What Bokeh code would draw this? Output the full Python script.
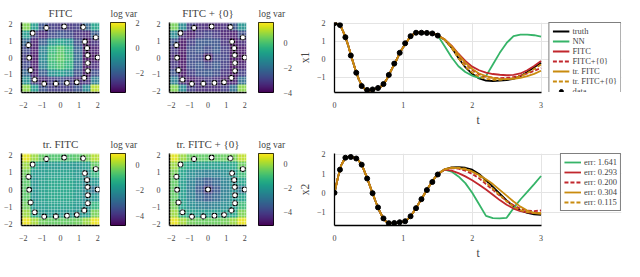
import numpy as np
from bokeh.plotting import figure
from bokeh.layouts import row, column
from bokeh.models import (Range1d, LinearColorMapper, FixedTicker, SingleIntervalTicker,
                          Legend, LegendItem, CustomJSTickFormatter)
from bokeh.palettes import Viridis256
from bokeh.embed import file_html
from bokeh.resources import INLINE

SERIF = "Liberation Serif"

# ---------------- data ----------------
t_data = [0.0, 0.079, 0.158, 0.237, 0.316, 0.395, 0.474, 0.553, 0.632, 0.711,
          0.789, 0.868, 0.947, 1.026, 1.105, 1.184, 1.263, 1.342, 1.421, 1.5]
x1_data = [2.00, 1.90, 1.22, 0.20, -0.76, -1.50, -1.72, -1.69, -1.61, -1.39,
           -0.88, -0.25, 0.35, 0.88, 1.28, 1.47, 1.47, 1.46, 1.43, 1.31]
x2_data = [0.00, 1.20, 1.82, 1.86, 1.78, 1.46, 0.74, -0.02, -0.76, -1.33,
           -1.58, -1.57, -1.53, -1.48, -1.22, -0.80, -0.33, 0.14, 0.56, 0.95]
extra_x = [0.0]
extra_y = [0.0]

t_head = [0.00, 0.05, 0.10, 0.15, 0.20, 0.25, 0.30, 0.35, 0.40, 0.45, 0.50,
          0.55, 0.60, 0.65, 0.70, 0.75, 0.80, 0.85, 0.90, 0.95, 1.00,
          1.05, 1.10, 1.15, 1.20, 1.25, 1.30, 1.35, 1.40, 1.45, 1.50]
x1_head = [2.00, 1.95, 1.75, 1.32, 0.75, 0.08, -0.55, -1.10, -1.50, -1.70, -1.75,
           -1.71, -1.66, -1.60, -1.46, -1.18, -0.80, -0.42, -0.05, 0.36, 0.68,
           0.97, 1.24, 1.40, 1.47, 1.48, 1.47, 1.46, 1.44, 1.40, 1.32]
x2_head = [0.00, 0.80, 1.45, 1.78, 1.87, 1.86, 1.80, 1.68, 1.42, 0.98, 0.50,
           0.00, -0.48, -0.92, -1.28, -1.50, -1.58, -1.58, -1.56, -1.53, -1.50,
           -1.42, -1.24, -0.98, -0.70, -0.40, -0.10, 0.20, 0.48, 0.75, 0.97]

t_tail = [1.6, 1.7, 1.8, 1.9, 2.0, 2.1, 2.2, 2.3, 2.4, 2.5, 2.6, 2.7, 2.8, 2.9, 3.0]
x1_truth = [1.08, 0.64, 0.06, -0.45, -0.82, -1.08, -1.20, -1.22, -1.20, -1.17, -1.10, -0.95, -0.72, -0.45, -0.20]
x1_nn = [0.72, 0.10, -0.40, -0.72, -0.92, -1.05, -0.95, -0.30, 0.35, 0.90, 1.28, 1.37, 1.37, 1.33, 1.25]
x1_fitc = [1.10, 0.75, 0.30, -0.10, -0.42, -0.62, -0.75, -0.83, -0.87, -0.90, -0.88, -0.80, -0.62, -0.38, -0.10]
x1_fitc0 = [1.08, 0.68, 0.20, -0.25, -0.60, -0.85, -0.98, -1.04, -1.06, -1.05, -1.00, -0.92, -0.80, -0.65, -0.50]
x1_trf = [1.10, 0.72, 0.25, -0.20, -0.55, -0.80, -0.95, -1.05, -1.10, -1.12, -1.10, -1.05, -0.95, -0.82, -0.65]
x1_trf0 = [1.08, 0.62, 0.05, -0.42, -0.75, -0.98, -1.10, -1.15, -1.15, -1.12, -1.06, -0.95, -0.78, -0.55, -0.30]

x2_truth = [1.22, 1.32, 1.33, 1.30, 1.20, 0.98, 0.65, 0.30, -0.05, -0.40, -0.70, -0.92, -1.05, -1.12, -1.15]
x2_nn = [1.20, 1.10, 0.85, 0.50, 0.00, -0.60, -1.20, -1.32, -1.33, -1.30, -0.80, -0.35, 0.05, 0.45, 0.87]
x2_fitc = [1.20, 1.15, 1.02, 0.85, 0.65, 0.42, 0.17, -0.10, -0.38, -0.62, -0.82, -0.95, -1.02, -1.05, -1.05]
x2_fitc0 = [1.22, 1.28, 1.25, 1.15, 0.98, 0.75, 0.45, 0.15, -0.15, -0.42, -0.65, -0.82, -0.92, -0.95, -0.92]
x2_trf = [1.22, 1.30, 1.28, 1.22, 1.10, 0.92, 0.70, 0.45, 0.15, -0.15, -0.45, -0.72, -0.92, -1.05, -1.10]
x2_trf0 = [1.22, 1.30, 1.30, 1.25, 1.12, 0.88, 0.55, 0.22, -0.12, -0.45, -0.72, -0.90, -1.00, -1.05, -1.05]

model_labels = ["NN", "FITC", "FITC+{0}", "tr. FITC", "tr. FITC+{0}"]
err_labels = ["err: 1.641", "err: 0.293", "err: 0.200", "err: 0.304", "err: 0.115"]

# log-variance maps, rows from top (x2 = +2) to bottom (x2 = -2), columns x1 = -2 .. 2
grid_fitc = [
    [0.9, -0.6, -2.2, -2.6, -2.7, -2.7, -2.6, -1.8, -0.4],
    [-0.6, -2.6, -3.0, -2.4, -2.2, -2.4, -2.8, -3.0, -2.0],
    [-1.8, -3.1, -2.0, -0.8, -0.4, -0.8, -2.3, -3.3, -2.8],
    [-2.4, -3.2, -1.2, 0.1, 0.5, 0.0, -1.9, -3.3, -3.1],
    [-2.6, -3.3, -1.0, 0.3, 0.6, 0.2, -1.7, -3.4, -3.3],
    [-2.4, -3.2, -1.2, 0.1, 0.4, 0.0, -1.9, -3.3, -2.9],
    [-1.8, -3.1, -2.0, -0.8, -0.5, -0.9, -2.3, -3.3, -2.3],
    [-0.8, -2.6, -3.0, -2.6, -2.4, -2.6, -3.0, -2.8, -1.2],
    [1.0, -0.6, -2.2, -2.6, -2.6, -2.6, -2.2, -1.0, 1.4],
]
grid_fitc0 = [
    [0.4, -1.4, -3.0, -3.3, -3.4, -3.4, -3.3, -2.6, -1.2],
    [-1.4, -3.3, -3.6, -3.1, -2.9, -3.1, -3.5, -3.6, -2.7],
    [-2.6, -3.7, -3.0, -2.5, -2.5, -2.6, -3.2, -3.8, -3.3],
    [-3.1, -3.7, -2.7, -2.5, -2.8, -2.5, -3.0, -3.8, -3.6],
    [-3.3, -3.8, -2.7, -2.8, -3.7, -2.8, -2.9, -3.8, -3.8],
    [-3.1, -3.7, -2.7, -2.5, -2.8, -2.5, -3.0, -3.8, -3.5],
    [-2.6, -3.7, -3.0, -2.6, -2.5, -2.7, -3.2, -3.8, -3.0],
    [-1.6, -3.3, -3.6, -3.3, -3.1, -3.3, -3.6, -3.5, -2.0],
    [0.5, -1.4, -3.0, -3.3, -3.3, -3.3, -3.0, -2.0, 0.6],
]
grid_trf = [
    [0.6, 0.0, -0.5, -0.7, -0.7, -0.7, -0.6, -0.3, 0.2],
    [0.0, -1.4, -1.8, -1.8, -1.8, -1.8, -1.9, -1.7, -0.5],
    [-0.4, -1.8, -1.7, -1.6, -1.6, -1.6, -1.8, -2.0, -1.1],
    [-0.6, -1.9, -1.6, -1.5, -1.5, -1.5, -1.7, -2.1, -1.8],
    [-0.6, -1.9, -1.6, -1.5, -1.5, -1.5, -1.7, -2.2, -2.6],
    [-0.6, -1.9, -1.6, -1.5, -1.5, -1.5, -1.7, -2.1, -1.8],
    [-0.4, -1.8, -1.7, -1.6, -1.6, -1.6, -1.8, -2.0, -1.1],
    [0.0, -1.4, -1.8, -1.8, -1.8, -1.8, -1.9, -1.7, -0.3],
    [0.7, 0.1, -0.4, -0.5, -0.5, -0.5, -0.4, 0.0, 0.7],
]
grid_trf0 = [
    [0.6, 0.0, -0.5, -0.6, -0.6, -0.6, -0.5, -0.3, 0.3],
    [0.0, -1.3, -1.7, -1.8, -1.8, -1.8, -1.8, -1.6, -0.5],
    [-0.4, -1.7, -2.2, -2.5, -2.6, -2.5, -2.2, -1.9, -1.0],
    [-0.6, -1.8, -2.5, -3.1, -3.5, -3.1, -2.5, -2.1, -1.7],
    [-0.6, -1.8, -2.6, -3.5, -4.2, -3.5, -2.6, -2.2, -2.8],
    [-0.6, -1.8, -2.5, -3.1, -3.5, -3.1, -2.5, -2.1, -1.7],
    [-0.4, -1.7, -2.2, -2.5, -2.6, -2.5, -2.2, -1.9, -1.0],
    [0.0, -1.3, -1.7, -1.8, -1.8, -1.8, -1.8, -1.6, -0.3],
    [0.7, 0.1, -0.4, -0.5, -0.5, -0.5, -0.4, 0.0, 0.7],
]
lims_fitc = (-3.6, 2.0)
lims_fitc0 = (-4.0, 1.6)
lims_trf = (-4.7, 0.85)
lims_trf0 = (-5.1, 0.9)
ticks_fitc = [-2, 0, 2]
ticks_other = [-4, -2, 0]
map_ticks = [-2, -1, 0, 1, 2]

GREEN = "#36b468"
RED = "#c1272d"
ORANGE = "#c98b0f"
DASH = "4 2"
STYLES = [(GREEN, "solid"), (RED, "solid"), (RED, DASH), (ORANGE, "solid"), (ORANGE, DASH)]


def minus_fmt():
    return CustomJSTickFormatter(
        code="return tick < 0 ? '\\u2212' + Math.abs(tick) : String(tick);")


def style_axis(ax, fs="8px", lw=1.2):
    ax.major_label_text_font = SERIF
    ax.major_label_text_font_size = fs
    ax.axis_line_color = "black"
    ax.axis_line_width = lw
    ax.major_tick_line_color = None
    ax.minor_tick_line_color = None
    ax.major_label_standoff = 3
    ax.formatter = minus_fmt()


def heat_fig(title, grid, lims, with_zero, lb, rb, top, fh, h):
    fw = 83
    p = figure(width=lb + fw + rb, height=h,
               x_range=Range1d(-2.1, 2.1), y_range=Range1d(-2.1, 2.1),
               min_border_left=lb, min_border_right=rb, min_border_top=top,
               min_border_bottom=h - top - fh, output_backend="svg",
               toolbar_location=None, title=title)
    p.outline_line_color = None
    p.title.text_font = SERIF
    p.title.text_font_style = "normal"
    p.title.text_font_size = "11px"
    p.title.align = "center"
    p.title.standoff = 7
    cm = LinearColorMapper(palette=Viridis256, low=lims[0], high=lims[1])
    img = np.array(grid[::-1], dtype=float)
    p.image(image=[img], x=-2.1, y=-2.1, dw=4.2, dh=4.2, color_mapper=cm, global_alpha=0.9)
    p.scatter(x1_data, x2_data, size=5, fill_color="white", line_color="black", line_width=1.1)
    if with_zero:
        p.scatter(extra_x, extra_y, size=5, fill_color="white", line_color="black", line_width=1.1)
    lattice = SingleIntervalTicker(interval=0.168)
    for g in (p.xgrid[0], p.ygrid[0]):
        g.ticker = lattice
        g.level = "overlay"
        g.grid_line_color = "white"
        g.grid_line_alpha = 0.3
        g.grid_line_width = 1
    for ax in (p.xaxis[0], p.yaxis[0]):
        style_axis(ax, lw=1.5)
        ax.ticker = FixedTicker(ticks=map_ticks)
    return p


def cbar_fig(lims, ticks, top, fh, h, rb):
    p = figure(width=15 + rb, height=h, x_range=Range1d(0, 1), y_range=Range1d(*lims),
               min_border_left=0, min_border_right=rb, min_border_top=top,
               min_border_bottom=h - top - fh, output_backend="svg",
               toolbar_location=None, x_axis_location=None, y_axis_location="right",
               title="log var")
    p.title.text_font = SERIF
    p.title.text_font_style = "normal"
    p.title.text_font_size = "9.5px"
    p.title.align = "left"
    p.title.standoff = 8
    cm = LinearColorMapper(palette=Viridis256, low=lims[0], high=lims[1])
    p.image(image=[np.linspace(lims[0], lims[1], 256).reshape(256, 1)],
            x=0, y=lims[0], dw=1, dh=lims[1] - lims[0], color_mapper=cm)
    p.outline_line_color = "black"
    p.outline_line_width = 1
    p.xgrid.visible = False
    p.ygrid.visible = False
    ax = p.yaxis[0]
    style_axis(ax, fs="8px")
    ax.axis_line_color = None
    ax.ticker = FixedTicker(ticks=ticks)
    ax.major_label_standoff = 4
    return p


def line_fig(ylab, head, truth, tails, yd, yr, top, fh, h, labels, with_truth_data):
    # the frame also holds the legend area right of t = 3; the axis stops at t = 3
    lb, fw_plot, fw_leg, rb = 37, 208, 81, 3
    fw = fw_plot + fw_leg
    x_end = 3.0 * fw / fw_plot
    p = figure(width=lb + fw + rb, height=h, x_range=Range1d(0, x_end), y_range=Range1d(*yr),
               min_border_left=lb, min_border_right=rb, min_border_top=top,
               min_border_bottom=h - top - fh, output_backend="svg",
               toolbar_location=None, x_axis_label="t", y_axis_label=ylab)
    p.outline_line_color = None
    xt = FixedTicker(ticks=[0, 1, 2, 3])
    yt = FixedTicker(ticks=[-1, 0, 1, 2])
    p.xaxis.ticker = xt
    p.yaxis.ticker = yt
    p.xgrid.ticker = xt
    p.ygrid.ticker = yt
    p.xaxis.bounds = (0, 3)
    for g in (p.xgrid[0], p.ygrid[0]):
        g.grid_line_color = "#e4e4e4"
        g.grid_line_width = 1
    for ax in (p.xaxis[0], p.yaxis[0]):
        style_axis(ax, fs="8px", lw=1.3)
        ax.axis_label_text_font = SERIF
        ax.axis_label_text_font_style = "normal"
        ax.axis_label_text_font_size = "11.5px"
        ax.axis_label_standoff = 3
    t_line = t_head + t_tail
    items = []
    r = p.line(t_line, head + truth, line_color="black", line_width=1.8)
    if with_truth_data:
        items.append(LegendItem(label="truth", renderers=[r]))
    for (col, dash), tail, lab in zip(STYLES, tails, labels):
        r = p.line(t_line, head + tail, line_color=col, line_width=1.8, line_dash=dash)
        items.append(LegendItem(label=lab, renderers=[r]))
    r = p.scatter(t_data, yd, size=5, fill_color="black", line_color="black")
    if with_truth_data:
        items.append(LegendItem(label="data", renderers=[r]))
    leg = Legend(items=items, location="top_right", orientation="vertical",
                 margin=0, padding=3, spacing=0,
                 label_text_font=SERIF, label_text_font_size="8.5px",
                 label_height=10, glyph_height=10, glyph_width=17, label_standoff=3,
                 border_line_color="black", border_line_width=1.2,
                 background_fill_color="white", background_fill_alpha=1)
    p.add_layout(leg)
    return p


# ---------------- layout ----------------
H1, H2 = 128, 133
x1_tails = [x1_nn, x1_fitc, x1_fitc0, x1_trf, x1_trf0]
x2_tails = [x2_nn, x2_fitc, x2_fitc0, x2_trf, x2_trf0]

hm1 = heat_fig("FITC", grid_fitc, lims_fitc, False, 16, 11, 22, 82, H1)
cb1 = cbar_fig(lims_fitc, ticks_fitc, 19, 88, H1, 23)
hm2 = heat_fig("FITC + {0}", grid_fitc0, lims_fitc0, True, 15, 12, 22, 82, H1)
cb2 = cbar_fig(lims_fitc0, ticks_other, 19, 88, H1, 22)
ln1 = line_fig("x1", x1_head, x1_truth, x1_tails, x1_data, (-1.86, 2.04), 19, 87, H1,
               model_labels, True)

hm3 = heat_fig("tr. FITC", grid_trf, lims_trf, False, 16, 11, 25, 83, H2)
cb3 = cbar_fig(lims_trf, ticks_other, 21, 88, H2, 23)
hm4 = heat_fig("tr. FITC + {0}", grid_trf0, lims_trf0, True, 15, 12, 25, 83, H2)
cb4 = cbar_fig(lims_trf0, ticks_other, 21, 88, H2, 22)
ln2 = line_fig("x2", x2_head, x2_truth, x2_tails, x2_data, (-1.7, 2.04), 24, 84, H2,
               err_labels, False)

layout = column(row(hm1, cb1, hm2, cb2, ln1), row(hm3, cb3, hm4, cb4, ln2))

open("out.html", "w").write(file_html(layout, INLINE))
